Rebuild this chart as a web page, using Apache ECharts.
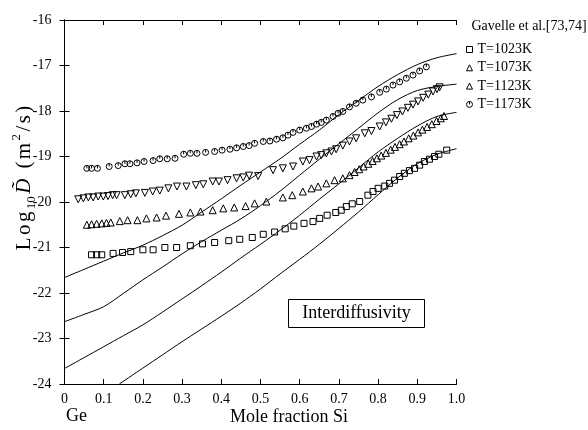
<!DOCTYPE html>
<html>
<head>
<meta charset="utf-8">
<script src="https://cdn.jsdelivr.net/npm/echarts@6/dist/echarts.min.js"></script>
<style>
    html, body { margin: 0; padding: 0; background: #fff; }
    #chart { width: 588px; height: 430px; }
</style>
</head>
<body>
<div id="chart"></div>
<script>
/**
 * 축 라벨
 */
const xTickLabels = ['0', '0.1', '0.2', '0.3', '0.4', '0.5', '0.6', '0.7', '0.8', '0.9', '1.0'];
const yTickLabels = ['-24', '-23', '-22', '-21', '-20', '-19', '-18', '-17', '-16'];

/**
 * 계산 곡선 (solid lines)
 */
const calcX = [0, 0.05, 0.1, 0.15, 0.2, 0.25, 0.3, 0.35, 0.4, 0.45, 0.5, 0.55, 0.6, 0.65, 0.7, 0.75, 0.8, 0.85, 0.9, 0.95, 1.0];
const calc1173 = [-21.66, -21.48, -21.30, -21.12, -20.95, -20.74, -20.51, -20.22, -19.93, -19.63, -19.34, -19.05, -18.73, -18.42, -18.08, -17.77, -17.46, -17.20, -16.98, -16.83, -16.74];
const calc1123 = [-22.63, -22.47, -22.30, -22.01, -21.71, -21.43, -21.14, -20.87, -20.62, -20.37, -20.08, -19.76, -19.41, -19.06, -18.72, -18.38, -18.04, -17.75, -17.55, -17.46, -17.41];
const calc1073 = [-23.66, -23.42, -23.18, -22.94, -22.70, -22.42, -22.13, -21.84, -21.54, -21.23, -20.93, -20.62, -20.29, -19.94, -19.60, -19.25, -18.90, -18.60, -18.33, -18.12, -18.03];
const calcX1023 = [0.14, 0.2, 0.25, 0.3, 0.35, 0.4, 0.45, 0.5, 0.55, 0.6, 0.65, 0.7, 0.75, 0.8, 0.85, 0.9, 0.95, 1.0];
const calc1023 = [-24.0, -23.65, -23.36, -23.07, -22.79, -22.51, -22.22, -21.91, -21.58, -21.26, -20.93, -20.58, -20.22, -19.84, -19.47, -19.16, -18.95, -18.83];

/**
 * 실험값 Gavelle et al.
 */
const exp1023X = [0.069, 0.082, 0.095, 0.124, 0.148, 0.169, 0.2, 0.226, 0.256, 0.286, 0.321, 0.352, 0.383, 0.419, 0.447, 0.479, 0.507, 0.536, 0.563, 0.585, 0.611, 0.634, 0.651, 0.67, 0.692, 0.706, 0.719, 0.734, 0.753, 0.774, 0.787, 0.8, 0.817, 0.829, 0.842, 0.855, 0.867, 0.88, 0.893, 0.906, 0.918, 0.931, 0.944, 0.955, 0.975];
const exp1023Y = [-21.16, -21.16, -21.16, -21.13, -21.11, -21.09, -21.05, -21.05, -21.0, -21.0, -20.96, -20.92, -20.89, -20.85, -20.82, -20.78, -20.71, -20.66, -20.59, -20.53, -20.47, -20.43, -20.36, -20.29, -20.23, -20.18, -20.10, -20.04, -19.99, -19.85, -19.77, -19.70, -19.65, -19.59, -19.52, -19.44, -19.37, -19.31, -19.26, -19.19, -19.11, -19.06, -19.0, -18.95, -18.86];

const exp1073X = [0.057, 0.069, 0.082, 0.095, 0.107, 0.118, 0.141, 0.161, 0.186, 0.209, 0.235, 0.259, 0.292, 0.321, 0.347, 0.378, 0.405, 0.433, 0.462, 0.485, 0.515, 0.557, 0.581, 0.608, 0.63, 0.647, 0.668, 0.689, 0.71, 0.727, 0.74, 0.752, 0.763, 0.775, 0.786, 0.797, 0.808, 0.82, 0.832, 0.843, 0.855, 0.866, 0.878, 0.89, 0.902, 0.913, 0.925, 0.937, 0.949, 0.96, 0.968];
const exp1073Y = [-20.50, -20.49, -20.48, -20.47, -20.46, -20.45, -20.42, -20.40, -20.40, -20.36, -20.34, -20.30, -20.26, -20.23, -20.21, -20.18, -20.14, -20.12, -20.09, -20.03, -19.99, -19.90, -19.85, -19.77, -19.70, -19.66, -19.59, -19.52, -19.48, -19.41, -19.34, -19.28, -19.22, -19.16, -19.10, -19.04, -18.98, -18.92, -18.85, -18.79, -18.73, -18.67, -18.60, -18.54, -18.47, -18.41, -18.35, -18.29, -18.22, -18.16, -18.11];

const exp1123X = [0.035, 0.048, 0.061, 0.073, 0.086, 0.099, 0.111, 0.123, 0.133, 0.154, 0.169, 0.182, 0.205, 0.225, 0.243, 0.265, 0.287, 0.311, 0.335, 0.354, 0.378, 0.394, 0.416, 0.439, 0.456, 0.471, 0.494, 0.532, 0.557, 0.583, 0.608, 0.625, 0.643, 0.655, 0.668, 0.681, 0.693, 0.71, 0.727, 0.744, 0.766, 0.783, 0.804, 0.82, 0.834, 0.848, 0.862, 0.876, 0.889, 0.902, 0.915, 0.928, 0.94, 0.95, 0.957];
const exp1123Y = [-19.94, -19.92, -19.90, -19.90, -19.88, -19.88, -19.87, -19.85, -19.85, -19.85, -19.83, -19.81, -19.80, -19.77, -19.75, -19.70, -19.66, -19.66, -19.63, -19.61, -19.55, -19.55, -19.52, -19.48, -19.46, -19.42, -19.43, -19.30, -19.26, -19.22, -19.11, -19.08, -19.00, -18.97, -18.93, -18.89, -18.84, -18.76, -18.67, -18.60, -18.49, -18.44, -18.34, -18.25, -18.17, -18.09, -18.01, -17.93, -17.86, -17.79, -17.71, -17.64, -17.57, -17.52, -17.48];

const exp1173X = [0.057, 0.069, 0.084, 0.114, 0.137, 0.154, 0.167, 0.185, 0.203, 0.226, 0.243, 0.262, 0.282, 0.304, 0.321, 0.338, 0.36, 0.383, 0.402, 0.422, 0.439, 0.456, 0.471, 0.485, 0.507, 0.524, 0.541, 0.557, 0.57, 0.583, 0.6, 0.617, 0.63, 0.643, 0.655, 0.668, 0.685, 0.698, 0.71, 0.727, 0.744, 0.761, 0.783, 0.804, 0.821, 0.838, 0.855, 0.872, 0.889, 0.906, 0.923];
const exp1173Y = [-19.26, -19.26, -19.26, -19.22, -19.20, -19.16, -19.16, -19.14, -19.11, -19.09, -19.05, -19.05, -19.04, -18.95, -18.93, -18.93, -18.91, -18.89, -18.86, -18.84, -18.81, -18.78, -18.76, -18.71, -18.67, -18.66, -18.62, -18.59, -18.53, -18.47, -18.42, -18.38, -18.34, -18.29, -18.25, -18.20, -18.12, -18.05, -18.01, -17.91, -17.83, -17.76, -17.69, -17.59, -17.52, -17.43, -17.36, -17.28, -17.21, -17.12, -17.03];

const legendNames = ['T=1023K', 'T=1073K', 'T=1123K', 'T=1173K'];

const FONT = 'Liberation Serif';
// 원 안에 세로줄 있는 기호
const circleTick = 'path://M10,5A5,5,0,1,1,0,5A5,5,0,1,1,10,5ZM5,0L5,5';

function pairs(xs, ys) {
    return xs.map(function (x, i) { return [x, ys[i]]; });
}

function lineSeries(xs, ys) {
    return {
        type: 'line',
        data: pairs(xs, ys),
        showSymbol: false,
        smooth: 0.3,
        silent: true,
        clip: true,
        z: 2,
        lineStyle: { color: '#000', width: 1 }
    };
}

function expSeries(name, xs, ys, symbol, size, rotate) {
    return {
        name: name,
        type: 'scatter',
        data: pairs(xs, ys),
        symbol: symbol,
        symbolSize: size,
        symbolRotate: rotate || 0,
        z: 3,
        itemStyle: { color: 'rgba(0,0,0,0)', borderColor: '#000', borderWidth: 1, opacity: 1 }
    };
}

function axisCommon() {
    return {
        axisLine: { show: true, lineStyle: { color: '#000', width: 1 } },
        axisTick: { show: true, inside: true, length: 5, lineStyle: { color: '#000' } },
        splitLine: { show: false }
    };
}

function drawChart() {
    let myChart = echarts.init(document.getElementById('chart'));

    let xBottom = Object.assign(axisCommon(), {
        type: 'value', min: 0, max: 1, interval: 0.1, position: 'bottom',
        axisLabel: {
            color: '#000', fontFamily: FONT, fontSize: 14, margin: 8,
            formatter: function (v, i) { return xTickLabels[i]; }
        }
    });
    let xTop = Object.assign(axisCommon(), {
        type: 'value', min: 0, max: 1, interval: 0.1, position: 'top',
        axisLabel: { show: false }
    });
    let yLeft = Object.assign(axisCommon(), {
        type: 'value', min: -24, max: -16, interval: 1, position: 'left',
        axisLabel: {
            color: '#000', fontFamily: FONT, fontSize: 14, margin: 13,
            formatter: function (v, i) { return yTickLabels[i]; }
        }
    });
    let yRight = Object.assign(axisCommon(), {
        type: 'value', min: -24, max: -16, interval: 1, position: 'right',
        axisLabel: { show: false }
    });

    // y축 제목 글자 간격 조금 넓게
    let pad = [0, 1.2];
    let a = { fontFamily: FONT, fontSize: 21, lineHeight: 28, verticalAlign: 'middle', fill: '#000', padding: pad };

    let option = {
        animation: false,
        backgroundColor: '#fff',
        grid: { left: 64.5, right: 131.5, top: 20, bottom: 46 },
        xAxis: [xBottom, xTop],
        yAxis: [yLeft, yRight],
        legend: {
            data: legendNames,
            orient: 'vertical',
            left: 461,
            top: 37,
            itemWidth: 6,
            itemHeight: 6,
            itemGap: 3.3,
            itemStyle: { color: '#fff', borderColor: '#000', borderWidth: 1 },
            textStyle: { color: '#000', fontFamily: FONT, fontSize: 14, lineHeight: 15 }
        },
        series: [
            lineSeries(calcX, calc1173),
            lineSeries(calcX, calc1123),
            lineSeries(calcX, calc1073),
            lineSeries(calcX1023, calc1023),
            expSeries(legendNames[0], exp1023X, exp1023Y, 'rect', 6),
            expSeries(legendNames[1], exp1073X, exp1073Y, 'triangle', 7),
            expSeries(legendNames[2], exp1123X, exp1123Y, 'triangle', 7, 180),
            expSeries(legendNames[3], exp1173X, exp1173Y, circleTick, 6)
        ],
        graphic: [
            // y축 제목
            {
                type: 'text', x: 24, y: 178, rotation: Math.PI / 2,
                style: {
                    text: '{a|L}{a|o}{a|g}{s|10}{d|D\u0303}{a| }{a|(}{a|m}{p|2}{a|/}{a|s}{a|)}',
                    align: 'center', verticalAlign: 'middle',
                    rich: {
                        a: a,
                        s: { fontFamily: FONT, fontSize: 13, lineHeight: 28, verticalAlign: 'bottom', fill: '#000', padding: pad },
                        d: { fontFamily: FONT, fontSize: 21, fontStyle: 'italic', lineHeight: 28, verticalAlign: 'middle', fill: '#000', padding: pad },
                        p: { fontFamily: FONT, fontSize: 13, lineHeight: 28, verticalAlign: 'top', fill: '#000', padding: pad }
                    }
                }
            },
            // x축 제목
            {
                type: 'text', x: 289, y: 417,
                style: { text: 'Mole fraction Si', font: '18px "Liberation Serif"', fill: '#000', align: 'center', verticalAlign: 'middle' }
            },
            {
                type: 'text', x: 66, y: 416,
                style: { text: 'Ge', font: '18px "Liberation Serif"', fill: '#000', align: 'left', verticalAlign: 'middle' }
            },
            // 범례 제목
            {
                type: 'text', x: 471.5, y: 26.5,
                style: { text: 'Gavelle et al.[73,74]', font: '14px "Liberation Serif"', fill: '#000', align: 'left', verticalAlign: 'middle' }
            },
            // Interdiffusivity 박스
            {
                type: 'rect', shape: { x: 288.5, y: 299.5, width: 136, height: 28 },
                style: { fill: '#fff', stroke: '#000', lineWidth: 1 }, z: 10
            },
            {
                type: 'text', x: 356.5, y: 313.5, z: 11,
                style: { text: 'Interdiffusivity', font: '18px "Liberation Serif"', fill: '#000', align: 'center', verticalAlign: 'middle' }
            }
        ]
    };

    option && myChart.setOption(option);
}

drawChart();
</script>
</body>
</html>
